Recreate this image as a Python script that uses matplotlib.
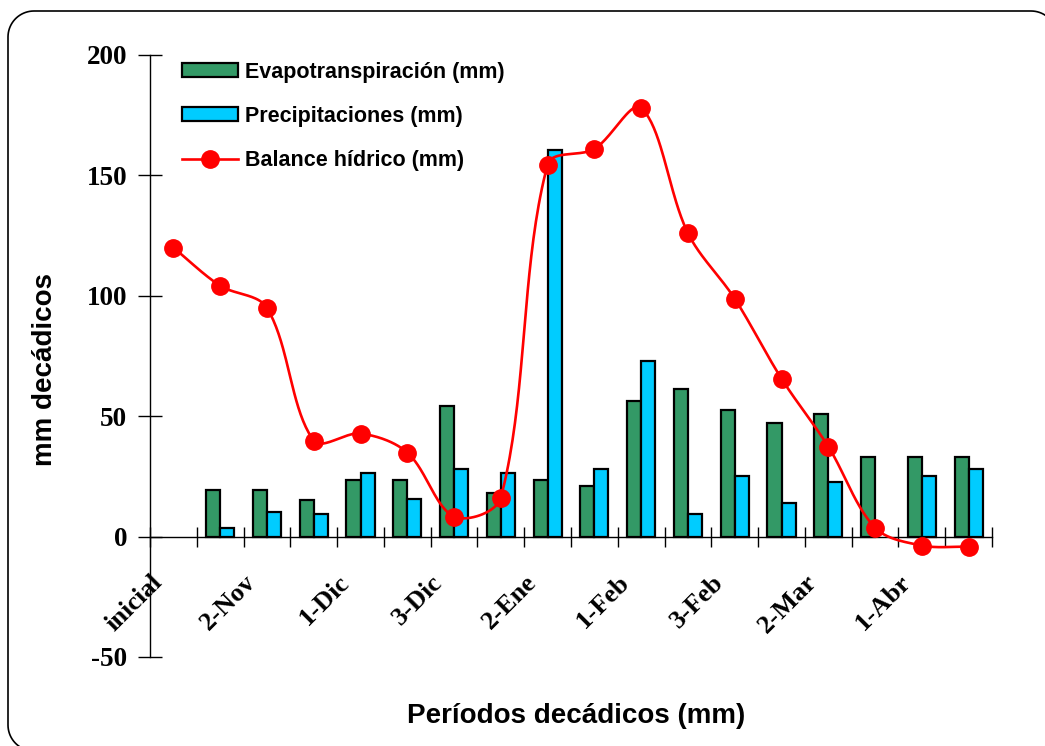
import numpy as np
import matplotlib
matplotlib.use("Agg")
import matplotlib.pyplot as plt
import matplotlib.transforms as mtrans
from matplotlib.patches import Patch
from matplotlib.lines import Line2D

categories = ["inicial", "1-Nov", "2-Nov", "3-Nov", "1-Dic", "2-Dic", "3-Dic",
              "1-Ene", "2-Ene", "3-Ene", "1-Feb", "2-Feb", "3-Feb", "1-Mar",
              "2-Mar", "3-Mar", "1-Abr", "2-Abr"]
evapotranspiracion = [0, 19.5, 19.5, 15, 23.7, 23.7, 54.4, 18.3, 23.7, 21,
                      56.5, 61.5, 52.7, 47.3, 51, 33.2, 33.2, 33.2]
precipitaciones = [0, 3.7, 10.4, 9.5, 26.6, 15.8, 28.2, 26.6, 160.7, 28,
                   73, 9.5, 25.3, 14.1, 22.8, 0, 25.3, 28.2]
balance = [120, 104.2, 95, 39.9, 42.8, 34.9, 8.3, 16.2, 154.5, 161,
           178, 126, 98.8, 65.6, 37.4, 3.7, -3.7, -4.2]

serif = "Liberation Serif"
sans = "Liberation Sans"
GREEN = "#339966"
BLUE = "#00CCFF"
RED = "#FF0000"

W, H = 1045, 746
fig = plt.figure(figsize=(W / 100, H / 100), dpi=100)
ax = fig.add_axes([150 / W, 1 - 657 / H, (992 - 150) / W, (657 - 55) / H])
ax.set_xlim(-0.5, len(categories) - 0.5)
ax.set_ylim(-50, 200)

x = np.arange(len(categories))
bw = 0.3
ev = np.array(evapotranspiracion, float)
pr = np.array(precipitaciones, float)
m1 = ev != 0
m2 = pr != 0
ax.bar(x[m1] - bw / 2, ev[m1], bw, color=GREEN, edgecolor="black",
       linewidth=1.6, zorder=2)
ax.bar(x[m2] + bw / 2, pr[m2], bw, color=BLUE, edgecolor="black",
       linewidth=1.6, zorder=2)

# Excel-style smoothed line: Bezier segments, control arms scaled by
# neighbouring segment lengths (computed in screen proportions)
sx = 842 / len(categories)      # px per category
sy = 602 / 250                  # px per unit
P = np.column_stack([x * sx, np.array(balance, float) * sy])
n = len(P)
xs, ys = [], []
t = np.linspace(0, 1, 40)[:, None]
for i in range(n - 1):
    p1, p2 = P[i], P[i + 1]
    p0 = P[i - 1] if i > 0 else P[i]
    p3 = P[i + 2] if i + 2 < n else P[i + 1]
    d01 = np.linalg.norm(p1 - p0)
    d12 = np.linalg.norm(p2 - p1)
    d23 = np.linalg.norm(p3 - p2)
    a = d12 / (d01 + d12) if d01 + d12 > 0 else 0
    b = d12 / (d12 + d23) if d12 + d23 > 0 else 0
    c1 = p1 + (p2 - p0) * a / 3
    c2 = p2 - (p3 - p1) * b / 3
    seg = (1 - t) ** 3 * p1 + 3 * (1 - t) ** 2 * t * c1 \
        + 3 * (1 - t) * t ** 2 * c2 + t ** 3 * p2
    xs.extend(seg[:, 0] / sx)
    ys.extend(seg[:, 1] / sy)
ax.plot(xs, ys, color=RED, linewidth=1.9, zorder=3)
ax.plot(x, balance, linestyle="none", marker="o", markersize=12.5,
        color=RED, zorder=4)

ax.set_yticks([-50, 0, 50, 100, 150, 200])
ax.set_yticklabels(["-50", "0", "50", "100", "150", "200"])

for s in ["top", "right"]:
    ax.spines[s].set_visible(False)
ax.spines["bottom"].set_position(("data", 0))
ax.spines["left"].set_linewidth(1.0)
ax.spines["bottom"].set_linewidth(1.0)

ax.set_xticks(x[::2])
ax.set_xticklabels(categories[::2])
ax.set_xticks(np.arange(-0.5, len(categories), 1.0), minor=True)
ax.tick_params(axis="x", which="major", length=0, pad=8)
ax.tick_params(axis="x", which="minor", direction="inout", length=14, width=1)
ax.tick_params(axis="y", direction="inout", length=17, width=1, pad=8)

off = mtrans.ScaledTranslation(-23 / 100, -23 / 100, fig.dpi_scale_trans)
for lab in ax.get_xticklabels():
    lab.set_rotation(45)
    lab.set_ha("right")
    lab.set_va("top")
    lab.set_rotation_mode("anchor")
    lab.set_fontfamily(serif)
    lab.set_fontweight("bold")
    lab.set_fontsize(19)
    lab.set_transform(lab.get_transform() + off)
for lab in ax.get_yticklabels():
    lab.set_fontfamily(serif)
    lab.set_fontweight("bold")
    lab.set_fontsize(19.5)

fig.text(45 / W, 1 - 370 / H, "mm decádicos", rotation=90, ha="center",
         va="center", fontfamily=sans, fontweight="bold", fontsize=20)
fig.text(576 / W, 1 - 716 / H, "Períodos decádicos (mm)", ha="center",
         va="center", fontfamily=sans, fontweight="bold", fontsize=20)

handles = [Patch(facecolor=GREEN, edgecolor="black", linewidth=1.6),
           Patch(facecolor=BLUE, edgecolor="black", linewidth=1.6),
           Line2D([0], [0], color=RED, linewidth=1.9, marker="o",
                  markersize=12.5)]
labels = ["Evapotranspiración (mm)", "Precipitaciones (mm)", "Balance hídrico (mm)"]
fig.legend(handles, labels, loc="upper left",
           bbox_to_anchor=(160 / W, 1 - 40 / H),
           frameon=False, handlelength=2.6, handleheight=0.62,
           handletextpad=0.35, labelspacing=1.08, borderpad=0.5,
           prop={"family": sans, "weight": "bold", "size": 15.5})

# rounded outer frame in pixel units (extends past right/bottom edges)
L, R, T, B, r = 8, 1057, 11, 751, 26
corners = [((R - r, T + r), np.linspace(0, -np.pi / 2, 20)),
           ((L + r, T + r), np.linspace(-np.pi / 2, -np.pi, 20)),
           ((L + r, B - r), np.linspace(np.pi, np.pi / 2, 20)),
           ((R - r, B - r), np.linspace(np.pi / 2, 0, 20))]
px, py = [], []
for (cx, cy), th in corners:
    px.extend(cx + r * np.cos(th))
    py.extend(cy + r * np.sin(th))
px.append(px[0])
py.append(py[0])
fig.add_artist(Line2D(np.array(px) / W, 1 - np.array(py) / H,
                      transform=fig.transFigure, color="black",
                      linewidth=1.2, clip_on=False))

fig.savefig("out.png", dpi=100)
